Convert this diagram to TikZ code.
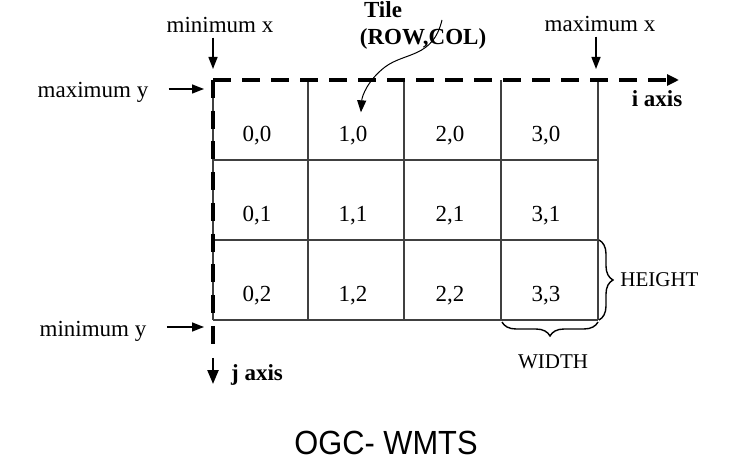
\documentclass[tikz,border=0pt]{standalone}
\usepackage{fontspec}
\setmainfont{Liberation Serif}
\setsansfont{Liberation Sans}
\usetikzlibrary{arrows.meta,decorations.pathreplacing}

\begin{document}
\begin{tikzpicture}[x=0.5pt,y=-0.5pt]
	\tikzset{every node/.style={font=\fontsize{11.5}{13}\selectfont, inner sep=0pt, anchor=base}}
	\tikzset{gridline/.style={draw=black!75, line width=0.7pt}}
	\tikzset{axisline/.style={line width=2pt, dash pattern=on 9pt off 6.375pt}}
	\tikzset{axistip/.style={line width=2pt, dash pattern=on 9pt off 5.5pt, -{Triangle[length=6pt,width=5.5pt]}}}
	\tikzset{pointer/.style={line width=0.7pt, -{Triangle[length=6pt,width=4.5pt]}}}
	\tikzset{tilebrace/.style={decorate, decoration={brace, amplitude=7pt}, line width=0.7pt}}

	\useasboundingbox (0,0) rectangle (738,475);

	% tiles
	\draw [gridline] (213,160) -- (598,160);
	\draw [gridline] (213,240) -- (598,240);
	\draw [gridline] (213,320) -- (598,320);
	\draw [gridline] (213,80) -- (213,320);
	\draw [gridline] (308,80) -- (308,320);
	\draw [gridline] (404,80) -- (404,320);
	\draw [gridline] (501,80) -- (501,320);
	\draw [gridline] (598,80) -- (598,320);

	\node (c00) at (257,142) {0,0};
	\node (c10) at (353,142) {1,0};
	\node (c20) at (450,142) {2,0};
	\node (c30) at (546,142) {3,0};

	\node (c01) at (257,222) {0,1};
	\node (c11) at (353,222) {1,1};
	\node (c21) at (450,222) {2,1};
	\node (c31) at (546,222) {3,1};

	\node (c02) at (257,302) {0,2};
	\node (c12) at (353,302) {1,2};
	\node (c22) at (450,302) {2,2};
	\node (c33) at (546,302) {3,3};

	% axes
	\coordinate (origin) at (213,80);
	\coordinate (iend)   at (679,80);
	\coordinate (jstop)  at (213,344);
	\coordinate (jstart) at (213,358);
	\coordinate (jend)   at (213,384);
	\draw [axistip] (origin) -- (iend);
	\draw [axisline] (origin) -- (jstop);
	\draw [pointer, line width=1.2pt, -{Triangle[length=7pt,width=5.5pt]}] (jstart) -- (jend);

	\node [font=\bfseries\fontsize{11.5}{13}\selectfont] (iaxis) at (657,107) {i axis};
	\node [font=\bfseries\fontsize{11.5}{13}\selectfont] (jaxis) at (257,380) {j axis};

	% extent labels
	\node (minx) at (220,33) {minimum x};
	\node (maxx) at (600,32) {maximum x};
	\node (maxy) at (93,98)  {maximum y};
	\node (miny) at (93,336) {minimum y};

	\coordinate (minxtip) at (213,69);
	\coordinate (maxxtip) at (596,69);
	\coordinate (maxytip) at (204,89);
	\coordinate (minytip) at (204,327);

	\draw [pointer, shorten <=2pt] (minx.south -| minxtip) -- (minxtip);
	\draw [pointer, shorten <=2pt] (maxx.south -| maxxtip) -- (maxxtip);
	\draw [pointer, shorten <=10pt] (maxytip -| maxy.east) -- (maxytip);
	\draw [pointer, shorten <=10pt] (minytip -| miny.east) -- (minytip);

	% tile label
	\node [font=\bfseries\fontsize{11.5}{13}\selectfont] (tile) at (383,18) {Tile};
	\node [font=\bfseries\fontsize{11.5}{13}\selectfont] (rowcol) at (423,45) {(ROW,COL)};
	\coordinate (tilestart) at (442,20);
	\draw [pointer, line width=0.5pt, shorten >=7pt] (tilestart) .. controls (433,58) and (405,52) .. (385,67)
		.. controls (368,80) and (362,96) .. ([xshift=3.5pt]c10.north);

	% tile size
	\draw [tilebrace] (599,240) -- (599,320);
	\draw [tilebrace] (598,322) -- (502,322);
	\node [anchor=base west, font=\fontsize{10.5}{12}\selectfont] (height) at (620,287) {HEIGHT};
	\node [font=\fontsize{10.5}{12}\selectfont] (width) at (553,368) {WIDTH};

	\node [font=\sffamily\fontsize{16.75}{19}\selectfont, xscale=0.92] (title) at (386,454) {OGC- WMTS};
\end{tikzpicture}
\end{document}
